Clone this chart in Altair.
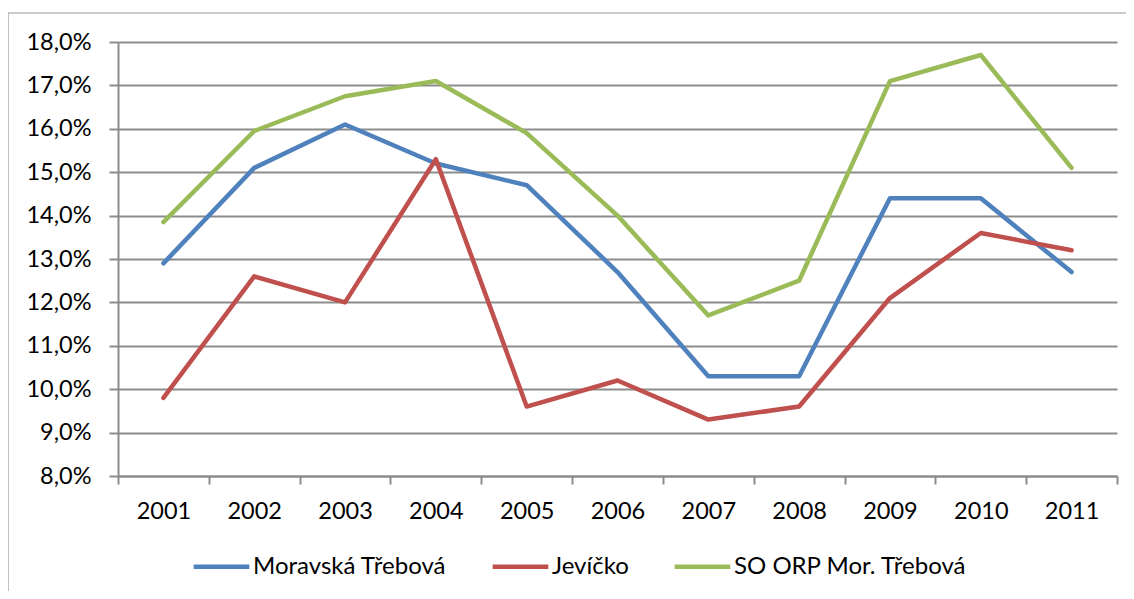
import altair as alt
import pandas as pd

years = [str(y) for y in range(2001, 2012)]
moravska = [12.9, 15.1, 16.1, 15.2, 14.7, 12.7, 10.3, 10.3, 14.4, 14.4, 12.7]
jevicko = [9.8, 12.6, 12.0, 15.3, 9.6, 10.2, 9.3, 9.6, 12.1, 13.6, 13.2]
so_orp = [13.85, 15.95, 16.75, 17.1, 15.9, 14.0, 11.7, 12.5, 17.1, 17.7, 15.1]
series = ["Moravská Třebová", "Jevíčko", "SO ORP Mor. Třebová"]
colors = ["#4F81BD", "#C0504D", "#9BBB59"]
y_ticks = list(range(8, 19))

rows = []
for order, (name, vals) in enumerate(zip(series, [moravska, jevicko, so_orp])):
    for yr, v in zip(years, vals):
        rows.append({"year": yr, "value": v, "series": name, "order": order})
df = pd.DataFrame(rows)

FONT = "Lato"
FS = 23.5
GRAY = "#8c8c8c"
W, H = 999, 434

frame = alt.Chart(pd.DataFrame({"frame": [0]})).mark_rect(
    fill=None, stroke="#9a9a9a", strokeWidth=1.2
).encode(
    x=alt.value(-110), x2=alt.value(W + 200),
    y=alt.value(-29), y2=alt.value(H + 300),
)

lines = alt.Chart(df).mark_line(strokeWidth=4.5, strokeCap="round", strokeJoin="round").encode(
    x=alt.X("year:O", scale=alt.Scale(type="band", paddingInner=0, paddingOuter=0),
            axis=alt.Axis(title=None, labelAngle=0, tickBand="extent", domainColor=GRAY,
                          domainWidth=2, tickColor=GRAY, tickWidth=2, tickSize=8,
                          labelFont=FONT, labelFontSize=FS, labelColor="black",
                          labelPadding=15, grid=False)),
    y=alt.Y("value:Q", scale=alt.Scale(domain=[8, 18], nice=False, zero=False),
            axis=alt.Axis(title=None, values=y_ticks, grid=True, gridColor=GRAY, gridWidth=2,
                          domainColor=GRAY, domainWidth=2, tickColor=GRAY, tickWidth=2,
                          tickSize=9, labelFont=FONT, labelFontSize=FS, labelColor="black",
                          labelPadding=18,
                          labelExpr="replace(format(datum.value, '.1f'), '.', ',') + '%'")),
    color=alt.Color("series:N", scale=alt.Scale(domain=series, range=colors),
                    legend=alt.Legend(title=None, orient="none", direction="horizontal",
                                      legendX=73, legendY=494,
                                      symbolType="stroke", symbolStrokeWidth=4.5,
                                      symbolSize=3100, labelFont=FONT, labelFontSize=24,
                                      labelColor="black", labelOffset=1, columnPadding=36,
                                      labelLimit=0)),
    order=alt.Order("order:Q"),
    detail="series:N",
)

chart = alt.layer(frame, lines).properties(
    width=W, height=H,
    autosize=alt.AutoSizeParams(type="none"),
    padding={"left": 110, "top": 34, "right": 9, "bottom": 115},
).configure_view(stroke=None)

chart.save("out.html", embed_options={"renderer": "svg", "actions": False})
